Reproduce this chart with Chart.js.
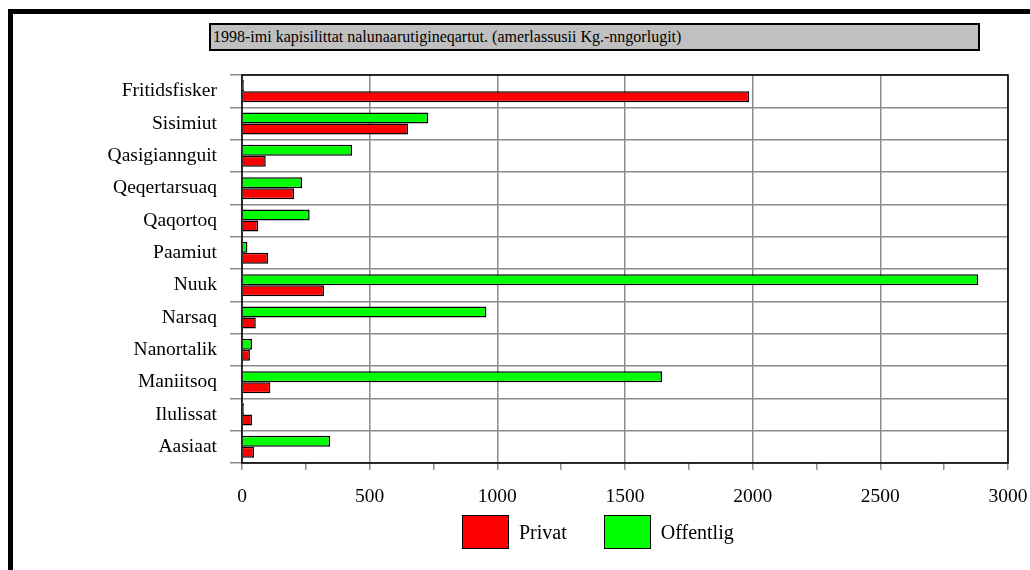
<!DOCTYPE html>
<html lang="kl">
<head>
  <meta charset="UTF-8" />
  <title>1998-imi kapisilittat nalunaarutigineqartut</title>
  <script src="https://cdn.jsdelivr.net/npm/chart.js@4.4.1/dist/chart.umd.min.js"></script>
  <style>
    html,body{margin:0;padding:0;background:#fff;overflow:hidden}
    #wrap{position:relative;width:1030px;height:570px}
    #frame{position:absolute;left:8px;top:9px;width:1100px;height:700px;border-left:5px solid #000;border-top:5px solid #000}
    #title{position:absolute;left:209px;top:23px;width:765px;height:24px;background:#c0c0c0;border:2px solid #000;
      font:16px 'Liberation Serif','Times New Roman',serif;line-height:24px;padding-left:2px;color:#000;white-space:nowrap}
    #chart{position:absolute;left:0;top:0}
    #legend{position:absolute;left:462px;top:515px;display:flex;font:20px 'Liberation Serif','Times New Roman',serif;color:#000}
    .item{display:flex;align-items:center;margin-right:37px}
    .sw{width:45px;height:32px;border:1.5px solid #000;margin-right:10px}
  </style>
</head>
<body>
<div id="wrap">
  <div id="frame"></div>
  <div id="title">1998-imi kapisilittat nalunaarutigineqartut. (amerlassusii Kg.-nngorlugit)</div>
  <canvas id="chart" width="1030" height="570"></canvas>
  <div id="legend"></div>
</div>
<script>
  const categories = ['Fritidsfisker','Sisimiut','Qasigiannguit','Qeqertarsuaq','Qaqortoq','Paamiut',
    'Nuuk','Narsaq','Nanortalik','Maniitsoq','Ilulissat','Aasiaat'];
  const offentlig = [8, 729, 431, 235, 265, 21, 2883, 957, 39, 1645, 8, 345];
  const privat = [1986, 650, 93, 204, 63, 102, 321, 54, 31, 111, 39, 47];
  const xMin = 0, xMax = 3000, xLabelStep = 500, xMinorStep = 250;
  const RED = '#ff0000', GREEN = '#00ff00', GRID = '#8c8c8c';

  Chart.defaults.font.family = "'Liberation Serif','Times New Roman',serif";
  Chart.defaults.color = '#000';

  // black outline round the plot area, under the bars
  const plotBorder = {
    id: 'plotBorder',
    beforeDatasetsDraw(chart){
      const {ctx, chartArea:a} = chart;
      ctx.save();
      ctx.strokeStyle = '#000';
      ctx.lineWidth = 1.5;
      ctx.strokeRect(a.left, a.top, a.right - a.left, a.bottom - a.top);
      ctx.restore();
    }
  };

  const chart = new Chart(document.getElementById('chart'), {
    type: 'bar',
    data: {
      labels: categories,
      datasets: [
        {label:'Offentlig', data:offentlig, backgroundColor:GREEN, borderColor:'#000', borderWidth:1.5,
          categoryPercentage:0.68, barPercentage:1},
        {label:'Privat', data:privat, backgroundColor:RED, borderColor:'#000', borderWidth:1.5,
          categoryPercentage:0.68, barPercentage:1}
      ]
    },
    options: {
      indexAxis: 'y',
      responsive: false,
      animation: false,
      layout: {padding:{top:75, left:102, right:22, bottom:47}},
      plugins: {
        title: {display:false},
        tooltip: {enabled:false},
        legend: {display:false}
      },
      scales: {
        x: {
          min: xMin, max: xMax,
          border: {display:false},
          afterFit(s){ s.height = 60; s.paddingLeft = 0; s.paddingRight = 0; },
          ticks: {
            stepSize: xMinorStep, padding: 15, font:{size:19.5}, maxRotation:0, autoSkip:false,
            callback: v => v % xLabelStep === 0 ? v : ''
          },
          grid: {
            color: c => (c.tick && c.tick.value % xLabelStep === 0) ? GRID : 'rgba(0,0,0,0)',
            tickColor: GRID, lineWidth: 1.5, tickLength: 7
          }
        },
        y: {
          border: {display:false},
          afterFit(s){ s.width = 140; },
          ticks: {padding: 13, font:{size:19.5}},
          grid: {color:GRID, lineWidth:1.5, tickLength:12, offset:true}
        }
      }
    },
    plugins: [plotBorder]
  });

  // legend: Privat first, then Offentlig
  const legend = document.getElementById('legend');
  chart.data.datasets.slice().reverse().forEach(ds => {
    const item = document.createElement('div');
    item.className = 'item';
    const sw = document.createElement('div');
    sw.className = 'sw';
    sw.style.background = ds.backgroundColor;
    const txt = document.createElement('span');
    txt.textContent = ds.label;
    item.appendChild(sw);
    item.appendChild(txt);
    legend.appendChild(item);
  });
</script>
</body>
</html>
